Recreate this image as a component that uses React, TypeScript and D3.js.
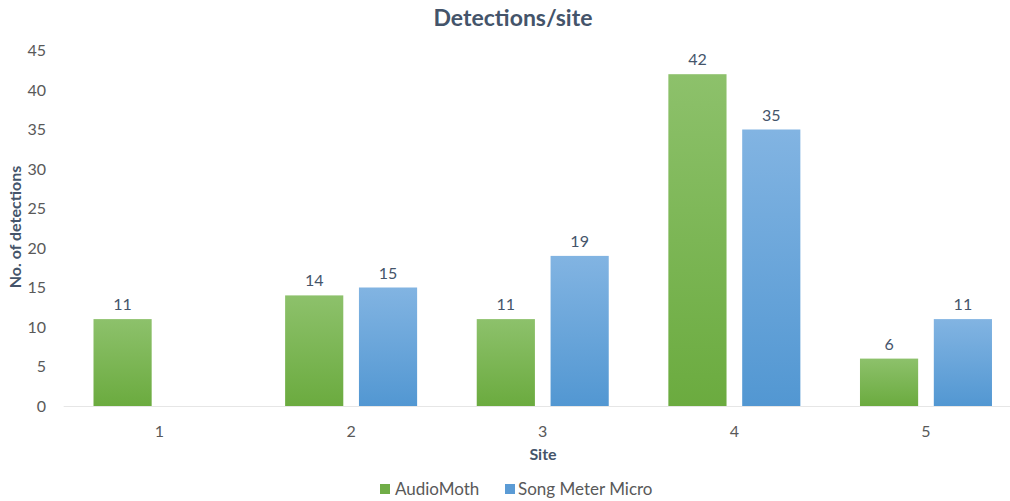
import React from "react";
import * as d3 from "d3";

const sites = ["1", "2", "3", "4", "5"];
const audioMoth: (number | null)[] = [11, 14, 11, 42, 6];
const songMeterMicro: (number | null)[] = [null, 15, 19, 35, 11];
const yTicks = [0, 5, 10, 15, 20, 25, 30, 35, 40, 45];
const seriesNames = ["AudioMoth", "Song Meter Micro"];

const W = 1010;
const H = 501;
const FONT = "Lato, 'Open Sans', sans-serif";
const TEXT = "#44546A";
const TICK = "#595959";

export default function App() {
  const x0 = d3.scaleBand<string>().domain(sites).range([63.7, 1021.8]).paddingInner(0).paddingOuter(0);
  const x1 = d3.scaleBand<string>().domain(seriesNames).range([29.8, 29.8 + 132]).paddingInner(14 / 66).paddingOuter(0);
  const y = d3.scaleLinear().domain([0, 45]).range([406, 50.5]);

  const series = [
    { name: seriesNames[0], values: audioMoth, grad: "gGreen", swatch: "#70AD47" },
    { name: seriesNames[1], values: songMeterMicro, grad: "gBlue", swatch: "#5B9BD5" },
  ];

  return (
    <svg width={W} height={H} style={{ display: "block", position: "absolute", left: 0, top: 0 }}>
      <defs>
        <linearGradient id="gGreen" x1="0" y1="0" x2="0" y2="1">
          <stop offset="0" stopColor="#8DC16B" />
          <stop offset="1" stopColor="#6BAB3F" />
        </linearGradient>
        <linearGradient id="gBlue" x1="0" y1="0" x2="0" y2="1">
          <stop offset="0" stopColor="#82B4E2" />
          <stop offset="1" stopColor="#5297D2" />
        </linearGradient>
      </defs>
      <rect width={W} height={H} fill="#fff" />
      <text x={513} y={26} textAnchor="middle" fontFamily={FONT} fontWeight="bold" fontSize={23} fill={TEXT}>
        Detections/site
      </text>

      {yTicks.map((t) => (
        <text key={t} x={46} y={y(t)} dy="0.35em" textAnchor="end" fontFamily={FONT} fontSize={16} fill={TICK}>
          {t}
        </text>
      ))}
      <text
        transform={`translate(21,227) rotate(-90)`}
        textAnchor="middle"
        fontFamily={FONT}
        fontWeight="bold"
        fontSize={16}
        fill={TEXT}
      >
        No. of detections
      </text>

      <line x1={x0.range()[0]} x2={W} y1={406.5} y2={406.5} stroke="#E6E6E6" strokeWidth={1} />

      {sites.map((s, i) => (
        <g key={s} transform={`translate(${x0(s)},0)`}>
          {series.map((ser) => {
            const v = ser.values[i];
            if (v == null) return null;
            const bx = x1(ser.name)!;
            const bw = x1.bandwidth();
            return (
              <g key={ser.name}>
                <rect x={bx} y={y(v)} width={bw} height={y(0) - y(v)} fill={`url(#${ser.grad})`} />
                <text
                  x={bx + bw / 2}
                  y={y(v) - 9}
                  textAnchor="middle"
                  fontFamily={FONT}
                  fontSize={16}
                  fill={TEXT}
                >
                  {v}
                </text>
              </g>
            );
          })}
          <text x={x0.bandwidth() / 2} y={437} textAnchor="middle" fontFamily={FONT} fontSize={16} fill={TICK}>
            {s}
          </text>
        </g>
      ))}

      <text x={543} y={460} textAnchor="middle" fontFamily={FONT} fontWeight="bold" fontSize={16} fill={TEXT}>
        Site
      </text>

      <g fontFamily={FONT} fontSize={17} fill={TICK}>
        <rect x={380} y={484} width={10} height={10} fill={series[0].swatch} />
        <text x={395} y={495}>{seriesNames[0]}</text>
        <rect x={505} y={484} width={10} height={10} fill={series[1].swatch} />
        <text x={518} y={495}>{seriesNames[1]}</text>
      </g>
    </svg>
  );
}
